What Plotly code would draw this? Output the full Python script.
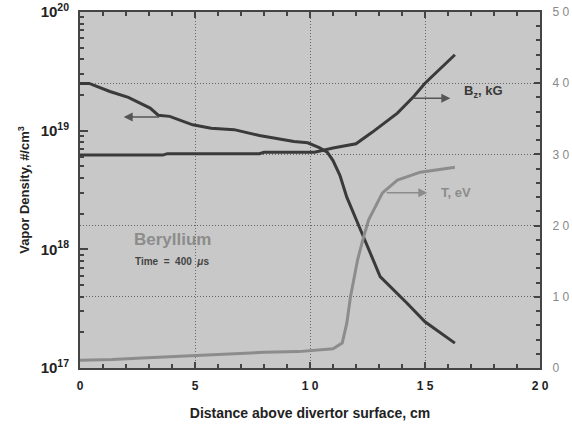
import plotly.graph_objects as go

# ---- data ----
dens_x = [0, 0.4, 1.3, 2.1, 3.05, 3.4, 3.9, 4.9, 5.7, 6.7, 7.8, 8.6, 9.3, 9.9,
          10.4, 10.75, 11.0, 11.3, 11.6, 12.25, 13.05, 14.2, 15.0, 16.3]
dens_y = [2.5e19, 2.5e19, 2.14e19, 1.91e19, 1.55e19, 1.35e19, 1.32e19, 1.12e19,
          1.05e19, 1.02e19, 9.1e18, 8.5e18, 8.1e18, 7.9e18, 7.2e18, 6.6e18,
          5.6e18, 4.2e18, 2.75e18, 1.38e18, 5.9e17, 3.55e17, 2.45e17, 1.62e17]

bz_x = [0, 3.6, 3.8, 4.9, 7.8, 8.0, 10.2, 11.0, 12.0, 12.7, 13.8, 14.5, 15.0, 16.3]
bz_y = [29.9, 29.9, 30.1, 30.1, 30.1, 30.3, 30.3, 30.9, 31.5, 33.1, 35.8, 38.1, 40.0, 44.0]

t_x = [0, 1.4, 2.7, 3.9, 5.0, 6.5, 8.0, 9.5, 10.5, 11.0, 11.4, 11.6, 11.76,
       12.07, 12.33, 12.55, 13.15, 13.8, 14.8, 16.3]
t_y = [1.1, 1.2, 1.4, 1.6, 1.8, 2.0, 2.2, 2.3, 2.5, 2.7, 3.5, 6.3, 10.0,
       15.2, 18.4, 20.8, 24.6, 26.4, 27.5, 28.2]

x_ticks = [0, 5, 10, 15, 20]
x_ticktext = ["0", "5", "1 0", "1 5", "2 0"]
x_minor = list(range(0, 21))
left_ticks = [1e17, 1e18, 1e19, 1e20]
left_ticktext = ["10<sup>17</sup>", "10<sup>18</sup>", "10<sup>19</sup>", "10<sup>20</sup>"]
left_minor = [float(m) * 10.0 ** e for e in (17, 18, 19) for m in range(2, 10)]
right_ticks = [0, 10, 20, 30, 40, 50]
right_ticktext = ["0", "1 0", "2 0", "3 0", "4 0", "5 0"]
right_minor = list(range(0, 51, 2))

DARK = "#3a3a3a"
LIGHT = "#8c8c8c"
FRAME = "#444444"
GRID = "#666666"
FONT = "Liberation Sans, Arial, sans-serif"

fig = go.Figure()
fig.add_trace(go.Scatter(x=dens_x, y=dens_y, mode="lines",
                         line=dict(color=DARK, width=3), xaxis="x", yaxis="y"))
fig.add_trace(go.Scatter(x=bz_x, y=bz_y, mode="lines",
                         line=dict(color=DARK, width=3), xaxis="x", yaxis="y2"))
fig.add_trace(go.Scatter(x=t_x, y=t_y, mode="lines",
                         line=dict(color=LIGHT, width=3), xaxis="x", yaxis="y2"))

fig.update_layout(
    width=572, height=427,
    margin=dict(l=80, r=32, t=12, b=59, autoexpand=False),
    paper_bgcolor="white",
    plot_bgcolor="#c8c8c8",
    showlegend=False,
    font=dict(family=FONT, color="#222"),
    xaxis=dict(
        range=[0, 20], tickmode="array", tickvals=x_ticks, ticktext=x_ticktext,
        ticks="inside", ticklen=6, tickcolor=FRAME, tickwidth=2,
        showline=True, linecolor=FRAME, linewidth=2, mirror="ticks",
        showgrid=True, gridcolor=GRID, griddash="1px,2px", gridwidth=1,
        zeroline=False, automargin=False,
        tickfont=dict(size=12, weight="bold", color="#222"),
        ticklabelstandoff=6,
        minor=dict(tickmode="array", tickvals=x_minor, ticks="inside", ticklen=4,
                   tickwidth=2, tickcolor=FRAME, showgrid=False),
        title=dict(text="Distance above divertor surface, cm",
                   font=dict(size=14, weight="bold", color="#222"), standoff=16),
    ),
    yaxis=dict(
        type="log", range=[17, 20], tickmode="array",
        tickvals=left_ticks, ticktext=left_ticktext,
        ticks="inside", ticklen=8, tickcolor=FRAME, tickwidth=2,
        showline=True, linecolor=FRAME, linewidth=2, mirror=False,
        showgrid=False, zeroline=False, automargin=False,
        tickfont=dict(size=15, weight="bold", color="#222"),
        ticklabelstandoff=6,
        minor=dict(tickmode="array", tickvals=left_minor, ticks="inside", ticklen=4,
                   tickwidth=2, tickcolor=FRAME, showgrid=False),
        title=dict(text="Vapor Density, #/cm<sup>3</sup>",
                   font=dict(size=13, weight="bold", color="#222"), standoff=8),
    ),
    yaxis2=dict(
        overlaying="y", side="right", anchor="x", range=[0, 50], tickmode="array",
        tickvals=right_ticks, ticktext=right_ticktext,
        ticks="inside", ticklen=6, tickcolor=FRAME, tickwidth=2,
        showline=True, linecolor=FRAME, linewidth=2,
        showgrid=True, gridcolor=GRID, griddash="1px,2px", gridwidth=1,
        zeroline=False, automargin=False,
        tickfont=dict(size=12, color="#888"),
        ticklabelstandoff=8,
        minor=dict(tickmode="array", tickvals=right_minor, ticks="inside", ticklen=4,
                   tickwidth=2, tickcolor=FRAME, showgrid=False),
    ),
)

annotations = [
    # density arrow (pointing left)
    dict(x=1.9, y=19.115, xref="x", yref="y", ax=37, ay=0,
         text="", showarrow=True, arrowhead=2, arrowsize=1.2, arrowwidth=1.5, arrowcolor="#555"),
    # Bz arrow
    dict(x=16.1, y=37.9, xref="x", yref="y2", ax=-38, ay=0,
         text="", showarrow=True, arrowhead=2, arrowsize=1.2, arrowwidth=1.5, arrowcolor="#555"),
    dict(x=16.6, y=38.8, xref="x", yref="y2", xanchor="left", yanchor="middle",
         text="B<sub>z</sub>, kG", showarrow=False,
         font=dict(size=13, weight="bold", color=DARK)),
    # T arrow
    dict(x=15.1, y=24.6, xref="x", yref="y2", ax=-42, ay=0,
         text="", showarrow=True, arrowhead=2, arrowsize=1.2, arrowwidth=1.5, arrowcolor=LIGHT),
    dict(x=15.6, y=24.6, xref="x", yref="y2", xanchor="left", yanchor="middle",
         text="T, eV", showarrow=False,
         font=dict(size=13, weight="bold", color=LIGHT)),
    dict(x=2.25, y=18.0, xref="x", yref="y2", xanchor="left", yanchor="middle",
         text="Beryllium", showarrow=False,
         font=dict(size=17, weight="bold", color=LIGHT)),
    dict(x=2.3, y=14.9, xref="x", yref="y2", xanchor="left", yanchor="middle",
         text="Time  =  400  <i>μ</i>s", showarrow=False,
         font=dict(size=10, weight="bold", color="#444")),
]
fig.update_layout(annotations=annotations)

fig.write_html("out.html")
